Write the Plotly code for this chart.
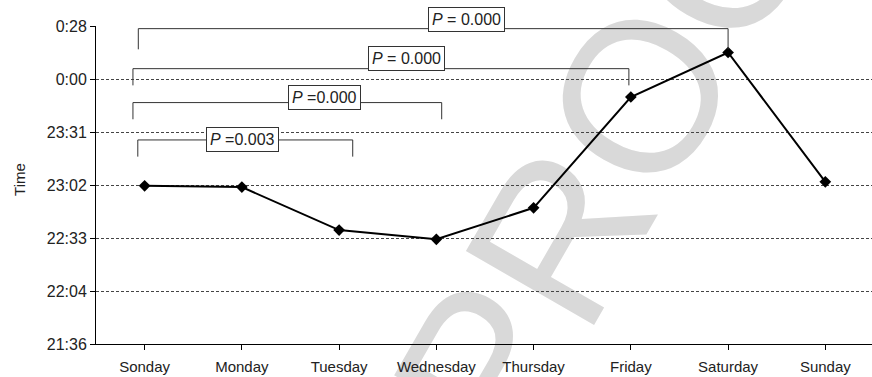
import plotly.graph_objects as go

# Mean bedtime per day of week, stored as fractions of a day (1.0 = midnight)
days = ["Sonday", "Monday", "Tuesday", "Wednesday", "Thursday", "Friday", "Saturday", "Sunday"]
bedtime = [0.9597, 0.9592, 0.9430, 0.9395, 0.9514, 0.9932, 1.0100, 0.9612]

# Axis ticks (fractions of a day) and their clock labels
tick_vals = [0.90, 0.92, 0.94, 0.96, 0.98, 1.00, 1.02]
tick_text = ["21:36", "22:04", "22:33", "23:02", "23:31", "0:00", "0:28"]

# Pairwise comparisons against the first day, with their p-value labels
comp_to = ["Saturday", "Friday", "Wednesday", "Tuesday"]
comp_p = ["<i>P</i> = 0.000", "<i>P</i> = 0.000", "<i>P</i> =0.000", "<i>P</i> =0.003"]

# Bracket geometry: (left x, right x offset, bar y, leg bottom y, label x, label y)
bracket_geom = [
    (-0.065, 0.0, 1.0190, 1.0112, 3.31, 1.0225),
    (-0.12, -0.02, 1.0039, 0.9976, 2.69, 1.0077),
    (-0.12, 0.055, 0.9911, 0.9848, 1.845, 0.9931),
    (-0.07, 0.14, 0.9770, 0.9707, 1.007, 0.9773),
]

Y_MIN, Y_MAX = tick_vals[0], tick_vals[-1]
FONT = "Liberation Sans, Arial, sans-serif"
LINE_C = "#333333"

fig = go.Figure()
fig.add_trace(go.Scatter(
    x=list(range(len(days))), y=bedtime, mode="lines+markers",
    line=dict(color="black", width=2),
    marker=dict(symbol="diamond", size=9, color="black"),
    showlegend=False, cliponaxis=False,
))

shapes = []
annotations = []
for target, label, (xl, dxr, ybar, yleg, lx, ly) in zip(comp_to, comp_p, bracket_geom):
    xr = days.index(target) + dxr
    for (x0, y0, x1, y1) in [(xl, yleg, xl, ybar), (xl, ybar, xr, ybar), (xr, ybar, xr, yleg)]:
        shapes.append(dict(type="line", xref="x", yref="y", x0=x0, y0=y0, x1=x1, y1=y1,
                           line=dict(color=LINE_C, width=1), layer="above"))
    annotations.append(dict(
        x=lx, y=(ly - Y_MIN) / (Y_MAX - Y_MIN), xref="x", yref="paper",
        xanchor="center", yanchor="middle",
        text=label, showarrow=False,
        font=dict(family=FONT, size=16, color="#222222"),
        bgcolor="white", bordercolor=LINE_C, borderwidth=1, borderpad=3,
    ))

# Light "PROOF" stamp behind the plot
shapes.append(dict(
    type="rect", xref="paper", yref="paper",
    x0=0.6589, x1=0.6989, y0=0.7907, y1=0.8307,
    line=dict(width=0), fillcolor="rgba(0,0,0,0)", layer="below",
    label=dict(text="PROOF", textangle=-60, textposition="middle center",
               font=dict(family=FONT, size=215, color="#d9d9d9")),
))

annotations.append(dict(
    x=-0.098, y=0.519, xref="paper", yref="paper", text="Time", textangle=-90,
    xanchor="center", yanchor="middle",
    showarrow=False, font=dict(family=FONT, size=15, color="#222222"),
))

fig.update_layout(
    width=872, height=377,
    margin=dict(l=96, r=0, t=26, b=33),
    paper_bgcolor="white", plot_bgcolor="rgba(0,0,0,0)",
    shapes=shapes, annotations=annotations,
    xaxis=dict(
        tickmode="array", tickvals=list(range(len(days))), ticktext=days,
        range=[-0.5, 7.48], showgrid=False, zeroline=False,
        showline=True, linecolor="black", linewidth=1,
        ticks="outside", ticklen=5, tickcolor="black", ticklabelstandoff=4,
        tickfont=dict(family=FONT, size=15, color="#222222"),
    ),
    yaxis=dict(
        range=[Y_MIN, Y_MAX], tickmode="array", tickvals=tick_vals, ticktext=tick_text,
        showgrid=True, gridcolor="#444444", gridwidth=1, griddash="3px,2px",
        zeroline=False, showline=True, linecolor="black", linewidth=1,
        ticks="outside", ticklen=5, tickcolor="black",
        tickfont=dict(family=FONT, size=16, color="#222222"),
    ),
)

fig.write_html("out.html")
